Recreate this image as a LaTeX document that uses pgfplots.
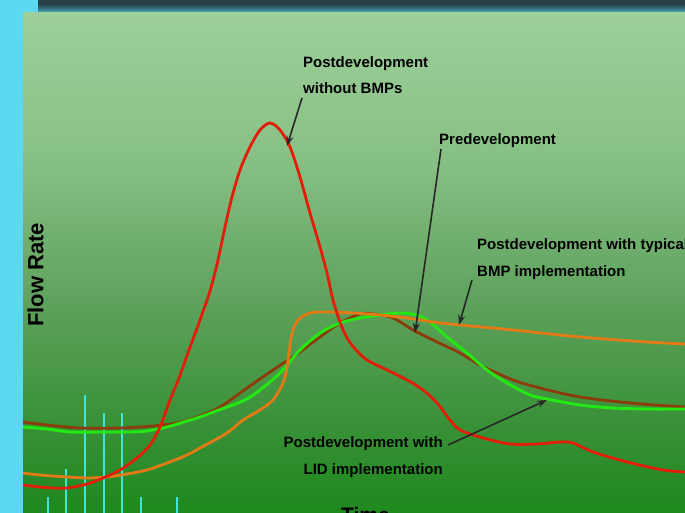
\documentclass[border=0pt]{standalone}
\usepackage{pgfplots}
\pgfplotsset{compat=1.18}
\usepackage{fontspec}
\setmainfont{Liberation Sans}
\usetikzlibrary{arrows.meta}
\definecolor{bgcyan}{RGB}{92,216,240}
\definecolor{stripdark}{RGB}{40,64,70}
\definecolor{stripmid}{RGB}{58,130,145}
\definecolor{gtop}{RGB}{157,208,154}
\definecolor{gA}{RGB}{135,192,132}
\definecolor{gB}{RGB}{95,162,93}
\definecolor{gC}{RGB}{58,145,56}
\definecolor{gbot}{RGB}{30,136,30}
\definecolor{cred}{RGB}{226,30,10}
\definecolor{corange}{RGB}{228,122,22}
\definecolor{cgreen}{RGB}{36,232,20}
\definecolor{cbrown}{RGB}{140,60,10}
\definecolor{crain}{RGB}{64,228,220}
\definecolor{carrow}{RGB}{40,40,40}
\pgfdeclareverticalshading{panelshade}{100bp}{color(0bp)=(gbot); color(25bp)=(gbot); color(34.3bp)=(gC); color(46.3bp)=(gB); color(60.3bp)=(gA); color(75bp)=(gtop); color(100bp)=(gtop)}
\pgfdeclareverticalshading{stripshade}{100bp}{color(0bp)=(bgcyan); color(25bp)=(bgcyan); color(40bp)=(stripmid); color(60bp)=(stripdark); color(75bp)=(stripdark); color(100bp)=(stripdark)}
\newcommand{\ann}{\fontsize{15bp}{18bp}\selectfont\bfseries}
\begin{document}
\begin{tikzpicture}[x=1bp,y=1bp]
\path[use as bounding box] (0,0) rectangle (685,513);
\clip (0,0) rectangle (685,513);
\fill[bgcyan] (0,0) rectangle (685,513);
\shade[shading=stripshade] (38,499) rectangle (685,513);
\shade[shading=panelshade] (23,0) rectangle (685,500);
\begin{axis}[at={(0,0)}, anchor=south west, scale only axis,
  width=685bp, height=513bp, xmin=0, xmax=685, ymin=0, ymax=513,
  hide axis, clip=true]
% rainfall
\addplot[ycomb, crain, line width=2.2bp] coordinates {
(48,16) (66,44) (85,118) (104,100) (122,100) (141,16) (177,16)};
% predevelopment (brown)
\addplot[cbrown, line width=2.8bp, smooth, tension=0.5] coordinates {
(23,91) (47,88) (80,85) (120,85) (153,87) (177,90) (197,96) (220,106)
(247,125) (273,143) (300,161) (320,176) (340,190) (360,199) (373,199)
(393,195) (413,183) (437,171) (460,160) (480,148) (513,133) (540,125) (580,116)
(630,110) (685,106)};
% LID (green)
\addplot[cgreen, line width=2.9bp, smooth, tension=0.5] coordinates {
(23,86) (47,84) (70,81) (103,81) (130,81) (147,82) (167,86) (187,92) (200,96)
(227,106) (245,113) (260,123) (280,140) (300,163) (320,180) (340,190) (360,195)
(380,198) (400,200) (417,198) (430,191) (447,176) (467,160) (487,143) (507,130)
(530,118) (547,114) (580,108) (613,105) (647,104) (685,104)};
% typical BMP (orange)
\addplot[corange, line width=2.8bp, smooth, tension=0.5] coordinates {
(23,40) (40,38) (67,36) (87,35) (107,36) (127,39) (147,43) (167,50) (187,58)
(200,65) (227,80) (243,93) (260,103) (273,113) (283,130) (287,146) (289,160)
(292,180) (298,193) (310,200) (327,201) (353,200) (380,198) (407,195) (433,191)
(460,188) (513,183) (580,176) (647,171) (685,169)};
% without BMPs (red)
\addplot[cred, line width=2.8bp, smooth, tension=0.5] coordinates {
(23,28) (40,26) (53,25) (67,25) (87,29) (103,35) (120,43) (137,55) (150,68)
(160,86) (170,113) (179,135) (189,163) (200,193) (210,222) (218,253) (225,286)
(232,316) (240,343) (250,366) (260,383) (270,390) (280,383) (290,366) (300,336)
(310,300) (320,266) (327,240) (333,213) (340,191) (347,175) (356,163) (367,153)
(387,143) (407,133) (423,123) (437,110) (450,93) (460,83) (483,75) (510,69)
(537,69) (560,71) (573,70) (593,61) (627,51) (663,43) (685,41)};
% annotations
\node[anchor=base west, inner sep=0pt] at (axis cs:303,445) {\ann Postdevelopment};
\node[anchor=base west, inner sep=0pt] at (axis cs:303,419) {\ann without BMPs};
\node[anchor=base west, inner sep=0pt] at (axis cs:439,368) {\ann Predevelopment};
\node[anchor=base west, inner sep=0pt] at (axis cs:477,263) {\ann Postdevelopment with typical};
\node[anchor=base west, inner sep=0pt] at (axis cs:477,236) {\ann BMP implementation};
\node[anchor=base east, inner sep=0pt] at (axis cs:443,65) {\ann Postdevelopment with};
\node[anchor=base east, inner sep=0pt] at (axis cs:443,38) {\ann LID implementation};
\draw[carrow, line width=1.6bp, -{Stealth[length=10bp,width=7bp]}] (axis cs:302,415) -- (axis cs:287,367);
\draw[carrow, line width=1.6bp, -{Stealth[length=10bp,width=7bp]}] (axis cs:441,364) -- (axis cs:415,180);
\draw[carrow, line width=1.6bp, -{Stealth[length=10bp,width=7bp]}] (axis cs:472,233) -- (axis cs:459,188);
\draw[carrow, line width=1.6bp, -{Stealth[length=10bp,width=7bp]}] (axis cs:448,68) -- (axis cs:547,113);
\end{axis}
\node[rotate=90, inner sep=0pt] at (35.5,238) {\fontsize{22bp}{25bp}\selectfont\bfseries Flow Rate};
\node[anchor=base west, inner sep=0pt] at (341,-10) {\fontsize{21bp}{24bp}\selectfont\bfseries Time};
\end{tikzpicture}
\end{document}
